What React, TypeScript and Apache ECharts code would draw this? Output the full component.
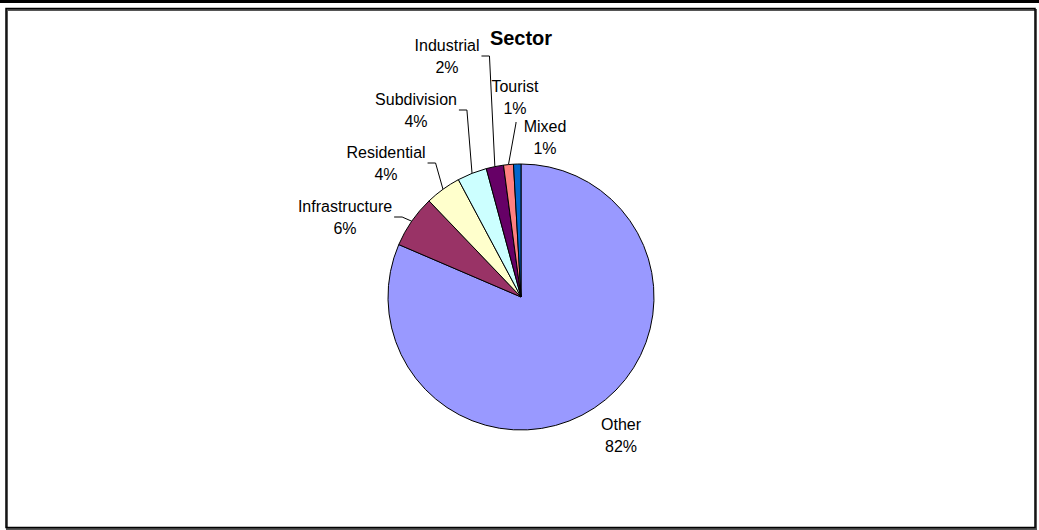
import React, { useEffect, useRef } from "react";
import * as echarts from "echarts";

const categories = ["Other", "Infrastructure", "Residential", "Subdivision", "Industrial", "Tourist", "Mixed"];
const values = [81.45, 6.4, 4.35, 3.6, 2.1, 1.2, 0.9];
const colors = ["#9999FF", "#993366", "#FFFFCC", "#CCFFFF", "#660066", "#FF8080", "#0066CC"];
const titleText = "Sector";
// where the leader line leaves the label: none / right / bottom
const leaderFrom = ["none", "right", "right", "right", "right", "bottom", "none"];
// label block centres (layout)
const labelPos: [number, number][] = [
  [621, 435],
  [345, 217],
  [386, 163],
  [416, 110],
  [447, 56],
  [515, 97],
  [545, 137],
];

export default function App() {
  const ref = useRef<HTMLDivElement>(null);
  useEffect(() => {
    if (!ref.current) return;
    const chart = echarts.init(ref.current, null, { renderer: "svg" });
    const W = 1039;
    const font = "Liberation Sans, Arial, sans-serif";
    chart.setOption({
      animation: false,
      backgroundColor: "#ffffff",
      textStyle: { fontFamily: font },
      graphic: [
        { type: "rect", shape: { x: 0, y: 0, width: W, height: 3 }, style: { fill: "#000" }, z: 100 },
        { type: "rect", shape: { x: 7, y: 10, width: 1029, height: 519 }, style: { fill: "none", stroke: "#555", lineWidth: 2 }, z: 99 },
        { type: "rect", shape: { x: 6, y: 8.5, width: 1029, height: 519 }, style: { fill: "none", stroke: "#000", lineWidth: 1.5 }, z: 100 },
        {
          type: "text",
          x: 521,
          y: 38,
          z: 100,
          style: {
            text: titleText,
            align: "center",
            verticalAlign: "middle",
            fontFamily: font,
            fontWeight: "bold",
            fontSize: 20,
            fill: "#000",
          },
        },
      ],
      series: [
        {
          type: "pie",
          center: [521, 297],
          radius: 133,
          startAngle: 90,
          clockwise: true,
          avoidLabelOverlap: false,
          percentPrecision: 0,
          itemStyle: { borderColor: "#000", borderWidth: 1 },
          label: {
            show: true,
            position: "outside",
            formatter: "{b}\n{d}%",
            fontFamily: font,
            fontSize: 16,
            lineHeight: 22,
            color: "#000",
            align: "center",
          },
          labelLine: { show: true, length: 8, length2: 8, lineStyle: { color: "#000", width: 1 } },
          labelLayout: (p: any) => {
            const i = p.dataIndex;
            const pos = labelPos[i];
            const out: any = { x: pos[0], y: pos[1], align: "center", verticalAlign: "middle" };
            const pts = p.labelLinePoints;
            const w = p.labelRect ? p.labelRect.width : 0;
            const h = p.labelRect ? p.labelRect.height : 0;
            if (pts && pts.length) {
              const edge = pts[0];
              if (leaderFrom[i] === "right") {
                const sx = pos[0] + w / 2 + 2;
                out.labelLinePoints = [
                  [edge[0], edge[1]],
                  [sx + 8, pos[1]],
                  [sx, pos[1]],
                ];
              } else if (leaderFrom[i] === "bottom") {
                const sy = pos[1] + h / 2 + 3;
                out.labelLinePoints = [
                  [edge[0], edge[1]],
                  [pos[0] + 1, sy + 1],
                  [pos[0] + 1, sy],
                ];
              }
            }
            return out;
          },
          data: categories.map((c, i) => ({
            name: c,
            value: values[i],
            itemStyle: { color: colors[i] },
            labelLine: { show: leaderFrom[i] !== "none" },
          })),
        },
      ],
    });
    return () => chart.dispose();
  }, []);
  return <div ref={ref} style={{ position: "absolute", left: 0, top: 0, width: 1039, height: 530 }} />;
}
